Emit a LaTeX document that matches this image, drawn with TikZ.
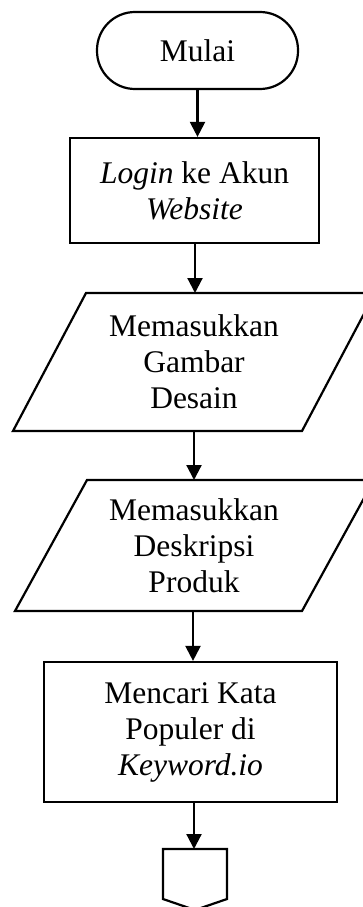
\documentclass[tikz,border=0pt]{standalone}
\usepackage{fontspec}
\setmainfont{Liberation Serif}
\usetikzlibrary{arrows.meta}
\begin{document}
\begin{tikzpicture}[x=1pt,y=-1pt,line width=2.2pt,
  txt/.style={align=center,font=\fontsize{31.5}{36}\selectfont,inner sep=0pt},
  box/.style={draw,line width=2.2pt,txt},
  outline/.style={draw,line width=2.2pt,line join=miter},
  arr/.style={-{Triangle[length=15pt,width=15pt]},line width=2.2pt}]
\useasboundingbox (0,0) rectangle (363,907);
\node[box,rounded corners=38pt,minimum width=201pt,minimum height=77pt] (start) at (197.5,50.5) {Mulai};
\node[box,minimum width=249pt,minimum height=105pt] (login) at (194.5,190.5) {\textit{Login} ke Akun\\\textit{Website}};
\draw[outline] (13,431) -- (86,293) -- (375,293) -- (302,431) -- cycle;
\node[txt] (gambar) at (194,362) {Memasukkan\\Gambar\\Desain};
\coordinate (gtop) at (195,293);
\coordinate (gbot) at (194,431);
\draw[outline] (15,611) -- (87,480) -- (374,480) -- (302,611) -- cycle;
\node[txt] (deskripsi) at (194,545.5) {Memasukkan\\Deskripsi\\Produk};
\coordinate (dtop) at (194,480);
\coordinate (dbot) at (193,611);
\node[box,minimum width=293pt,minimum height=140pt] (cari) at (190.5,732) {Mencari Kata\\Populer di\\\textit{Keyword.io}};
\draw[outline] (163,849) -- (227,849) -- (227,899) -- (195,910) -- (163,899) -- cycle;
\coordinate (ctop) at (194,849);
\draw[arr] (start.south) -- (start.south |- login.north);
\draw[arr] (login.south -| gtop) -- (gtop);
\draw[arr] (gbot) -- (dtop);
\draw[arr] (dbot) -- (dbot |- cari.north);
\draw[arr] (cari.south -| ctop) -- (ctop);
\end{tikzpicture}
\end{document}
